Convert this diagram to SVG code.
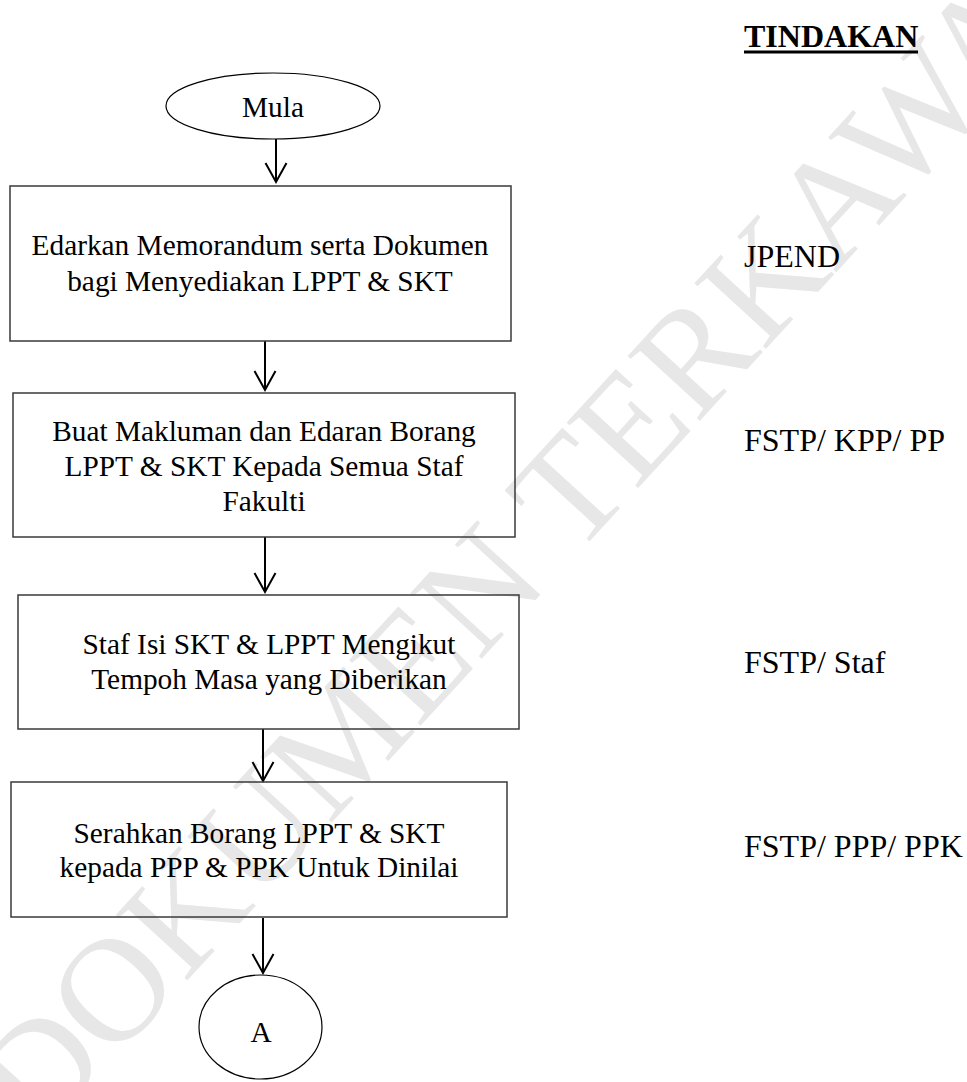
<svg xmlns="http://www.w3.org/2000/svg" width="967" height="1082" viewBox="0 0 967 1082">
  <defs>
    <style>
      .bg { fill: #ffffff; }
      .wm { font-family: "Liberation Serif", "Times New Roman", serif; font-size: 148px; fill: #e7e7e7; }
      .box { fill: none; stroke: #3a3a3a; stroke-width: 1.5; }
      .term { fill: none; stroke: #000000; stroke-width: 1.2; }
      .t { font-family: "Liberation Serif", "Times New Roman", serif; font-size: 29.33px; fill: #000000; text-anchor: middle; }
      .lbl { font-family: "Liberation Serif", "Times New Roman", serif; font-size: 32px; fill: #000000; }
      .hdr { font-family: "Liberation Serif", "Times New Roman", serif; font-size: 32px; font-weight: bold; fill: #000000; }
      .conn { fill: none; stroke: #000000; stroke-width: 2; marker-end: url(#arr); }
    </style>
    <marker id="arr" viewBox="0 0 20 22" refX="19" refY="11" markerWidth="20" markerHeight="22" markerUnits="userSpaceOnUse" orient="auto" overflow="visible">
      <path d="M0,0.5 L19,11 L0,21.5" fill="none" stroke="#000000" stroke-width="2" stroke-linejoin="miter"/>
    </marker>
  </defs>

  <rect class="bg" x="0" y="0" width="967" height="1082"/>

  <g id="watermark">
    <text class="wm" x="40" y="1141" transform="rotate(-47.5 40 1141)">DOKUMEN TERKAWAL</text>
  </g>

  <g id="connectors">
    <line class="conn" x1="276" y1="139" x2="276" y2="182"/>
    <line class="conn" x1="265" y1="341" x2="265" y2="390"/>
    <line class="conn" x1="265" y1="537" x2="265" y2="592"/>
    <line class="conn" x1="263" y1="729" x2="263" y2="781"/>
    <line class="conn" x1="263" y1="918" x2="263" y2="973"/>
  </g>

  <g id="node-mula">
    <ellipse class="term" cx="273" cy="106" rx="107" ry="33"/>
    <text class="t" x="273" y="117">Mula</text>
  </g>

  <g id="node-edarkan">
    <rect class="box" x="10" y="186" width="501" height="155"/>
    <text class="t" x="260" y="255">Edarkan Memorandum serta Dokumen</text>
    <text class="t" x="260" y="291">bagi Menyediakan LPPT &amp; SKT</text>
  </g>

  <g id="node-buat">
    <rect class="box" x="13" y="393" width="502" height="144"/>
    <text class="t" x="264" y="441">Buat Makluman dan Edaran Borang</text>
    <text class="t" x="264" y="476">LPPT &amp; SKT Kepada Semua Staf</text>
    <text class="t" x="264" y="511">Fakulti</text>
  </g>

  <g id="node-staf">
    <rect class="box" x="18" y="595" width="501" height="134"/>
    <text class="t" x="269" y="654">Staf Isi SKT &amp; LPPT Mengikut</text>
    <text class="t" x="269" y="689">Tempoh Masa yang Diberikan</text>
  </g>

  <g id="node-serahkan">
    <rect class="box" x="11" y="782" width="496" height="135"/>
    <text class="t" x="259" y="843">Serahkan Borang LPPT &amp; SKT</text>
    <text class="t" x="259" y="877">kepada PPP &amp; PPK Untuk Dinilai</text>
  </g>

  <g id="node-a">
    <ellipse class="term" cx="260.5" cy="1027" rx="61.5" ry="52"/>
    <text class="t" x="261" y="1042">A</text>
  </g>

  <g id="tindakan">
    <text class="hdr" x="744" y="46.5">TINDAKAN</text>
    <line x1="744" y1="52" x2="918" y2="52" stroke="#000000" stroke-width="3"/>
    <text class="lbl" x="744" y="267">JPEND</text>
    <text class="lbl" x="744" y="451">FSTP/ KPP/ PP</text>
    <text class="lbl" x="744" y="673">FSTP/ Staf</text>
    <text class="lbl" x="744" y="857">FSTP/ PPP/ PPK</text>
  </g>
</svg>
